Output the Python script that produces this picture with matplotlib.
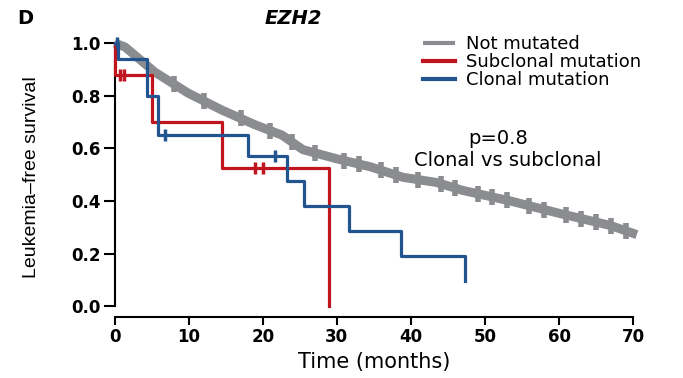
import numpy as np
import matplotlib
matplotlib.use("Agg")
import matplotlib.pyplot as plt

# Kaplan-Meier style readings (time in months, survival fraction)
grey_t = [0, 1.4, 5.4, 9.9, 14.5, 18.9, 22.6, 25.4, 30, 34.5, 38.9, 43.5, 47, 53.4, 60, 66.9, 70.5]
grey_s = [1.0, 0.985, 0.89, 0.81, 0.745, 0.69, 0.65, 0.595, 0.56, 0.53, 0.49, 0.47, 0.44, 0.40, 0.353, 0.307, 0.272]
grey_cens = [8, 12, 17, 21, 24, 27, 31, 33, 36, 38, 41, 44, 46, 49, 51, 53, 56, 58, 61, 63, 65, 67, 69]

red_t = [0, 0.1, 5.0, 14.5, 28.9]
red_s = [1.0, 0.88, 0.70, 0.525, 0.0]
red_cens_t = [0.7, 1.3, 19.0, 20.0]

blue_t = [0, 0.4, 4.3, 5.8, 18.0, 23.2, 25.5, 31.6, 38.7, 47.3]
blue_s = [1.0, 0.94, 0.80, 0.65, 0.57, 0.475, 0.38, 0.285, 0.19, 0.095]
blue_cens_t = [0.3, 6.8, 21.6]

labels = ["Not mutated", "Subclonal mutation", "Clonal mutation"]
GREY, RED, BLUE = "#8a8c90", "#c0141e", "#22558f"


def step_xy(t, s):
    xs, ys = [], []
    for i in range(len(t)):
        if i > 0:
            xs.append(t[i]); ys.append(s[i - 1])
        xs.append(t[i]); ys.append(s[i])
    return xs, ys


def surv_at(t, s, x):
    idx = np.searchsorted(t, x, side="right") - 1
    return np.array(s)[idx]


fig = plt.figure(figsize=(6.83, 3.78), dpi=100)
ax = fig.add_axes([0.168, 0.19, 0.759, 0.696])

# grey curve is a thick band with many censor ticks
ax.plot(grey_t, grey_s, color=GREY, lw=6.5, solid_capstyle="butt", clip_on=False, label=labels[0], zorder=2)
gy = np.interp(grey_cens, grey_t, grey_s)
ax.plot(grey_cens, gy, ls="none", marker="|", ms=12, mew=4, color=GREY, clip_on=False, zorder=2)

rx, ry = step_xy(red_t, red_s)
ax.plot(rx, ry, color=RED, lw=2.3, clip_on=False, label=labels[1], zorder=3)
ax.plot(red_cens_t, surv_at(red_t, red_s, red_cens_t), ls="none", marker="|", ms=8, mew=2.5,
        color=RED, zorder=3)

bx, by = step_xy(blue_t, blue_s)
ax.plot(bx, by, color=BLUE, lw=2.3, clip_on=False, label=labels[2], zorder=4)
ax.plot(blue_cens_t, surv_at(blue_t, blue_s, blue_cens_t), ls="none", marker="|", ms=8, mew=2.5,
        color=BLUE, zorder=4, clip_on=False)

ax.set_xlim(0, 70)
ax.set_ylim(0, 1.0)
for sp in ["top", "right"]:
    ax.spines[sp].set_visible(False)
ax.spines["bottom"].set_position(("outward", 8))
ax.spines["left"].set_linewidth(1.5)
ax.spines["bottom"].set_linewidth(1.5)
ax.set_xticks(np.arange(0, 71, 10))
ax.set_yticks([0.0, 0.2, 0.4, 0.6, 0.8, 1.0])
ax.set_yticklabels(["0.0", "0.2", "0.4", "0.6", "0.8", "1.0"])
ax.tick_params(axis="y", width=1.5, length=8, pad=2, labelsize=12)
ax.tick_params(axis="x", width=1.5, length=6, pad=2, labelsize=12)
for lab in ax.get_xticklabels() + ax.get_yticklabels():
    lab.set_fontweight("bold")

ax.set_xlabel("Time (months)", fontsize=15, labelpad=4)
ax.set_ylabel("Leukemia\u2013free survival", fontsize=14,
              family=["Liberation Sans", "DejaVu Sans"])
ax.yaxis.set_label_coords(-0.145, 0.49)

leg = ax.legend(loc="upper left", bbox_to_anchor=(0.595, 1.03), frameon=False, fontsize=13,
                handlelength=1.75, handletextpad=0.6, labelspacing=0.0, borderaxespad=0,
                borderpad=0)
for h in leg.get_lines():
    h.set_linewidth(3)

ax.text(0.74, 0.638, "p=0.8", transform=ax.transAxes, ha="center", va="center", fontsize=14)
ax.text(0.759, 0.554, "Clonal vs subclonal", transform=ax.transAxes, ha="center", va="center",
        fontsize=14)

fig.text(0.025, 0.95, "D", fontsize=14, fontweight="heavy", va="center")
fig.text(0.43, 0.952, "EZH2", fontsize=14, fontweight="bold", style="italic", ha="center", va="center")

fig.savefig("out.png", dpi=100)
